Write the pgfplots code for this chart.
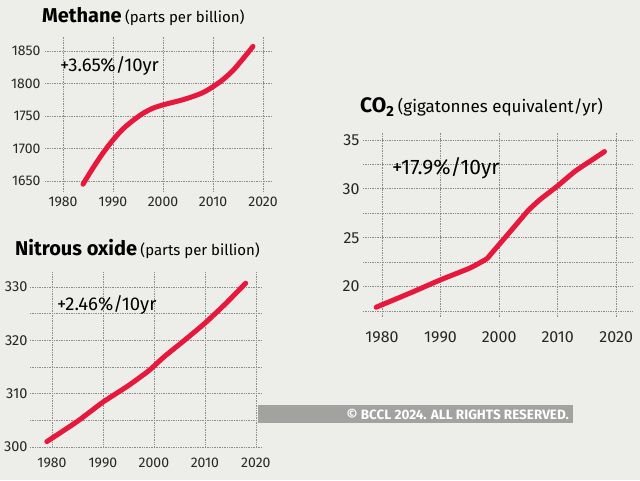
\documentclass[border=0pt]{standalone}
\usepackage{pgfplots}
\pgfplotsset{compat=1.18}
\usepackage{fontspec}
\setmainfont{Fira Sans}
\definecolor{bg}{RGB}{237,237,233}
\definecolor{linered}{RGB}{232,24,60}
\definecolor{gridc}{RGB}{140,140,140}
\definecolor{barc}{RGB}{162,162,160}
\pgfplotsset{
  panel/.style={
    scale only axis,
    axis line style={draw=none},
    tick style={draw=none},
    grid=both,
    major grid style={gridc, line width=0.7pt, dash pattern=on 0.8pt off 0.9pt},
    minor grid style={gridc, line width=0.7pt, dash pattern=on 0.8pt off 0.9pt},
    xtick={1980,1990,2000,2010,2020},
    /pgf/number format/assume math mode=true,
    /pgf/number format/1000 sep={},
    tick label style={font=\fontsize{14}{16}\selectfont, text=black!85},
    clip=false,
  },
  redline/.style={linered, line width=5pt, line cap=round, line join=round},
}
\begin{document}
\begin{tikzpicture}[x=1pt,y=1pt]
\path[use as bounding box, fill=bg] (0,0) rectangle (640,480);

% Methane
\begin{axis}[panel, at={(45pt,288pt)}, anchor=south west,
  width=227pt, height=155pt,
  xmin=1976.4, xmax=2021.8, ymin=1633, ymax=1871.5,
  ytick={1650,1700,1750,1800,1850},
  xticklabel style={yshift=-1pt},
  yticklabel style={xshift=-1pt}]
\addplot[redline, smooth, tension=0.5] coordinates {
(1984,1645) (1986,1670) (1988,1693) (1990,1713) (1992,1730) (1994,1743)
(1996,1754) (1998,1762) (2000,1767) (2002,1771) (2004,1775) (2006,1780)
(2008,1786) (2010,1795) (2012,1806) (2014,1820) (2016,1838) (2018,1857)};
\node[anchor=west, inner sep=0pt, font=\fontsize{18.5}{20}\selectfont] at (axis cs:1979.4,1827) {+3.65\%/10yr};
\end{axis}

% Nitrous oxide
\begin{axis}[panel, at={(30pt,32pt)}, anchor=south west,
  width=232pt, height=176pt,
  xmin=1975.7, xmax=2021.2, ymin=299.8, ymax=332.8,
  ytick={300,310,320,330}, minor ytick={305,315,325},
  xticklabel style={yshift=-6pt},
  yticklabel style={xshift=1pt, font=\fontsize{14.5}{16}\selectfont}]
\addplot[redline, smooth, tension=0.3] coordinates {
(1979,301.0) (1985,304.8) (1990,308.4) (1995,311.5) (1999,314.3)
(2002,316.9) (2006,320.0) (2010,323.2) (2014,326.8) (2018,330.7)};
\node[anchor=west, inner sep=0pt, font=\fontsize{18.5}{20}\selectfont] at (axis cs:1981,326.6) {+2.46\%/10yr};
\end{axis}

% CO2
\begin{axis}[panel, at={(363pt,163pt)}, anchor=south west,
  width=269pt, height=184pt,
  xmin=1976.75, xmax=2022.7, ymin=16.9, ymax=35.7,
  ytick={20,25,30,35}, minor ytick={17.5,22.5,27.5,32.5},
  tick label style={font=\fontsize{16}{18}\selectfont},
  xticklabel style={yshift=-11pt},
  yticklabel style={xshift=0pt}]
\addplot[redline, smooth, tension=0.35] coordinates {
(1979,17.9) (1985,19.4) (1990,20.7) (1995,21.9) (1997.5,22.7) (1998,22.9) (1998.7,23.4)
(2001,25.0) (2003,26.4) (2005,27.8) (2007,28.9) (2010,30.3)
(2013,31.8) (2016,33.0) (2018,33.8)};
\node[anchor=west, inner sep=0pt, font=\fontsize{21}{24}\selectfont] at (axis cs:1981.7,32.1) {+17.9\%/10yr};
\end{axis}

% Titles
\node[anchor=base west, inner sep=0pt] at (42,457)
  {\fontsize{20}{22}\selectfont\bfseries Methane\,\fontsize{15}{17}\mdseries\selectfont (parts per billion)};
\node[anchor=base west, inner sep=0pt] at (15,225)
  {\fontsize{20}{22}\selectfont\bfseries Nitrous oxide\,\fontsize{15}{17}\mdseries\selectfont (parts per billion)};
\node[anchor=base west, inner sep=0pt] at (360,367)
  {\fontsize{21}{22}\selectfont\bfseries CO$_{\mathbf 2}$\,\fontsize{17}{19}\mdseries\selectfont (gigatonnes equivalent/yr)};

% watermark bar
\fill[barc] (258,57) rectangle (573,75);
\node[anchor=east, inner sep=0pt, text=white, font=\fontsize{13.5}{14}\selectfont\bfseries] at (569,66) {© BCCL 2024. ALL RIGHTS RESERVED.};
\end{tikzpicture}
\end{document}
